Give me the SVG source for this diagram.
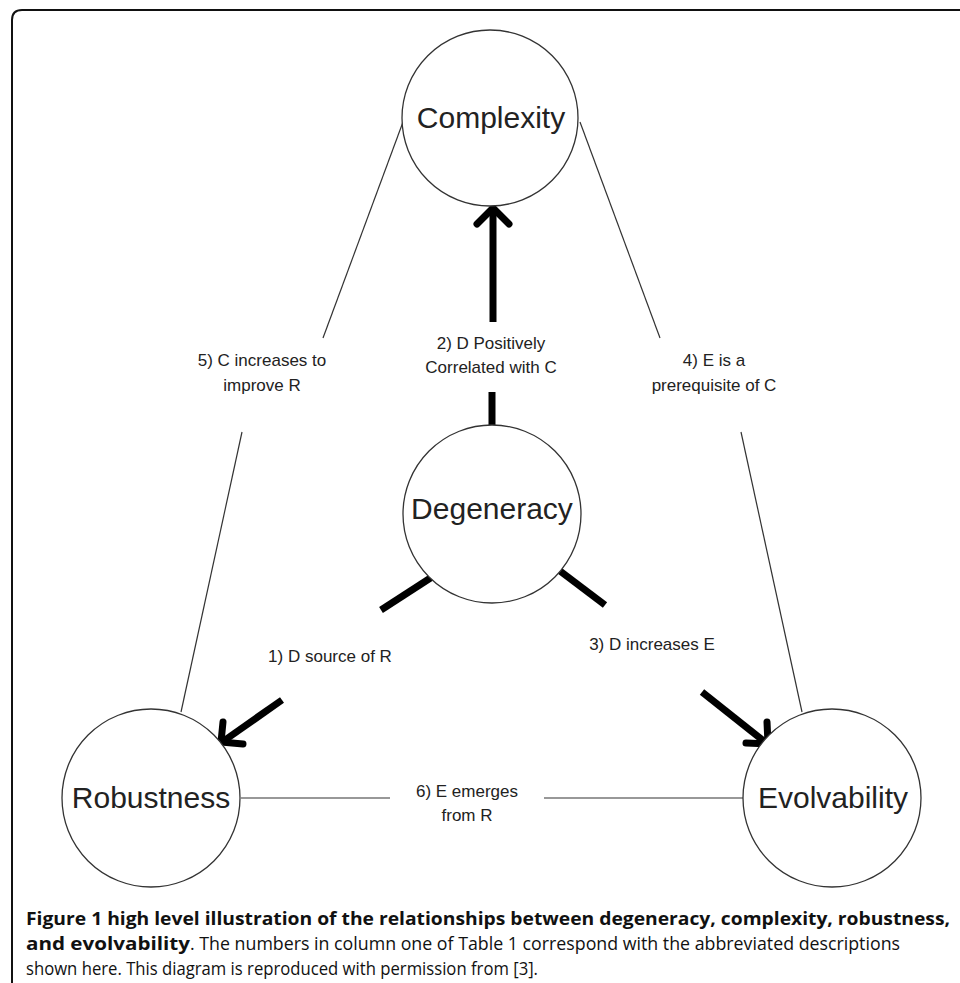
<svg xmlns="http://www.w3.org/2000/svg" width="960" height="983" viewBox="0 0 960 983">
<style>
.node{fill:#fff;stroke:#333;stroke-width:1.3}
.nl{font-family:"Liberation Sans",Arial,sans-serif;font-size:30px;fill:#222;text-anchor:middle}
.lb{font-family:"Liberation Sans",Arial,sans-serif;font-size:17px;fill:#222;text-anchor:middle}
.thin{stroke:#333;stroke-width:1.2;fill:none}
.thick{stroke:#000;stroke-width:7;fill:none;stroke-linecap:butt}
.head{stroke:#000;stroke-width:7;fill:none;stroke-linecap:round;stroke-linejoin:round}
.cap{font-family:"Open Sans","Liberation Sans",sans-serif;font-size:18px;fill:#111}
</style>
<rect width="960" height="983" fill="#fff"/>
<path d="M12,983 V20 Q12,10 22,10 H960" fill="none" stroke="#111" stroke-width="2"/>
<g id="connectors">
<line class="thin" x1="403" y1="122" x2="323" y2="338"/>
<line class="thin" x1="242" y1="432" x2="181" y2="712"/>
<line class="thin" x1="580" y1="122" x2="660" y2="338"/>
<line class="thin" x1="741" y1="432" x2="802" y2="712"/>
<line class="thin" x1="241" y1="798" x2="390" y2="798"/>
<line class="thin" x1="544" y1="798" x2="743" y2="798"/>
<line class="thick" x1="493" y1="322" x2="493" y2="212"/>
<polyline class="head" points="477,224 493,208 509,224"/>
<line class="thick" x1="492" y1="392" x2="492" y2="425"/>
<line class="thick" x1="432" y1="577" x2="381" y2="610"/>
<line class="thick" x1="282" y1="700" x2="225" y2="740"/>
<polyline class="head" points="223,722 221,742 243,744"/>
<line class="thick" x1="560" y1="571" x2="605" y2="605"/>
<line class="thick" x1="702" y1="692" x2="765" y2="742"/>
<polyline class="head" points="767,722 768,744 746,743"/>
<text class="lb" x="491" y="349">2) D Positively</text>
<text class="lb" x="491" y="373">Correlated with C</text>
<text class="lb" x="262" y="366">5) C increases to</text>
<text class="lb" x="262" y="391">improve R</text>
<text class="lb" x="714" y="366">4) E is a</text>
<text class="lb" x="714" y="391">prerequisite of C</text>
<text class="lb" x="330" y="662">1) D source of R</text>
<text class="lb" x="652" y="650">3) D increases E</text>
<text class="lb" x="467" y="797">6) E emerges</text>
<text class="lb" x="467" y="821">from R</text>
</g>
<g id="complexity"><circle class="node" cx="490" cy="118" r="88"/><text class="nl" x="491" y="128">Complexity</text></g>
<g id="degeneracy"><circle class="node" cx="492" cy="514" r="89"/><text class="nl" x="492" y="519">Degeneracy</text></g>
<g id="robustness"><circle class="node" cx="151" cy="798" r="89"/><text class="nl" x="151" y="808">Robustness</text></g>
<g id="evolvability"><circle class="node" cx="832" cy="798" r="89"/><text class="nl" x="833" y="808">Evolvability</text></g>
<g id="caption">
<text class="cap" x="26" y="925" font-weight="bold" textLength="924" lengthAdjust="spacingAndGlyphs">Figure 1 high level illustration of the relationships between degeneracy, complexity, robustness,</text>
<text class="cap" x="26" y="950" font-weight="bold" textLength="164" lengthAdjust="spacingAndGlyphs">and evolvability</text>
<text class="cap" x="190" y="950" textLength="710" lengthAdjust="spacingAndGlyphs">. The numbers in column one of Table 1 correspond with the abbreviated descriptions</text>
<text class="cap" x="26" y="975" textLength="512" lengthAdjust="spacingAndGlyphs">shown here. This diagram is reproduced with permission from [3].</text>
</g>
</svg>
